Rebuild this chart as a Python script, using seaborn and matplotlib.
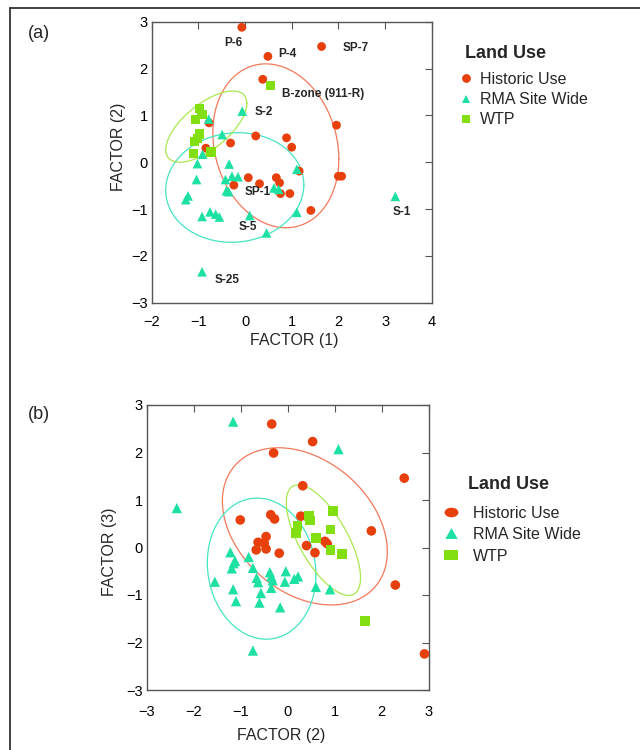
import numpy as np
import pandas as pd
import matplotlib
matplotlib.use("Agg")
import matplotlib.pyplot as plt
import seaborn as sns
from matplotlib.lines import Line2D
from matplotlib.path import Path
from matplotlib.transforms import Affine2D

# ---------------- data ----------------
groups = ["Historic Use", "RMA Site Wide", "WTP"]

# Panel (a): FACTOR (1) vs FACTOR (2)
a_hist_x = [-0.07, 0.49, 1.64, 0.38, 1.96, 0.23, 0.89, 1.00, -0.31, -0.77, -0.84, 2.00, 2.07, 1.16,
            0.07, -0.24, 0.31, 0.67, 0.74, 0.76, 0.96, 1.41]
a_hist_y = [2.88, 2.26, 2.47, 1.77, 0.79, 0.56, 0.52, 0.32, 0.41, 0.84, 0.30, -0.30, -0.30, -0.19,
            -0.33, -0.49, -0.46, -0.33, -0.44, -0.67, -0.67, -1.03]
a_rma_x = [3.22, -0.92, -0.06, -0.78, -0.49, -0.91, -1.02, -0.34, -1.04, -0.42, -0.28, -0.15, -0.40,
           -0.35, -1.22, -1.27, -0.92, -0.75, -0.63, -0.55, 0.10, 0.46, 0.62, 0.72, 1.11, 1.11]
a_rma_y = [-0.73, -2.34, 1.09, 0.92, 0.59, 0.17, -0.03, -0.04, -0.37, -0.37, -0.30, -0.31, -0.61,
           -0.63, -0.72, -0.80, -1.16, -1.06, -1.11, -1.17, -1.14, -1.51, -0.55, -0.58, -0.15, -1.07]
a_wtp_x = [-0.97, -0.92, -1.06, -0.97, -1.02, -1.09, -1.10, -0.73, 0.54]
a_wtp_y = [1.15, 1.02, 0.92, 0.60, 0.50, 0.45, 0.19, 0.22, 1.64]

a_label_text = ["P-6", "P-4", "SP-7", "B-zone (911-R)", "S-2", "SP-1", "S-5", "S-25", "S-1"]
a_label_x = [-0.45, 0.72, 2.09, 0.80, 0.21, -0.01, -0.13, -0.65, 3.16]
a_label_y = [2.55, 2.30, 2.44, 1.45, 1.07, -0.64, -1.39, -2.51, -1.07]

# ellipse parameters: centre x, centre y, sd x, sd y, correlation
a_ell_cx = [0.66, -0.22, -0.83]
a_ell_cy = [0.35, -0.54, 0.76]
a_ell_sx = [1.35, 1.48, 0.87]
a_ell_sy = [1.75, 1.17, 0.76]
a_ell_r = [-0.16, 0.05, 0.65]

# Panel (b): FACTOR (2) vs FACTOR (3)
b_hist_x = [-0.34, 0.53, -0.30, 2.48, 0.32, -1.01, -0.36, -0.28, 0.28, 1.78, 2.29, 2.91, -0.46,
            -0.63, -0.50, -0.67, -0.46, -0.18, 0.40, 0.58, 0.79, 0.84]
b_hist_y = [2.60, 2.23, 1.99, 1.46, 1.30, 0.58, 0.69, 0.60, 0.66, 0.35, -0.79, -2.24, 0.23,
            0.11, 0.09, -0.05, -0.03, -0.12, 0.04, -0.11, 0.13, 0.08]
b_rma_x = [-1.16, -2.36, 1.08, -1.22, -1.12, -1.15, -1.19, -0.83, -0.74, -1.55, -1.16, -1.10, -0.66,
           -0.63, -0.57, -0.60, -0.38, -0.35, -0.32, -0.35, -0.16, -0.04, -0.06, 0.14, 0.22, 0.60,
           0.90, -0.74]
b_rma_y = [2.65, 0.83, 2.07, -0.10, -0.28, -0.33, -0.44, -0.20, -0.43, -0.72, -0.88, -1.13, -0.64,
           -0.73, -0.96, -1.16, -0.52, -0.61, -0.69, -0.85, -1.26, -0.50, -0.72, -0.66, -0.61, -0.83,
           -0.88, -2.17]
b_wtp_x = [0.46, 0.47, 0.21, 0.18, 0.97, 0.60, 0.91, 0.91, 1.16, 1.64]
b_wtp_y = [0.66, 0.57, 0.46, 0.30, 0.76, 0.20, 0.38, -0.05, -0.13, -1.55]

b_ell_cx = [0.365, -0.555, 0.76]
b_ell_cy = [0.445, -0.445, 0.155]
b_ell_sx = [1.755, 1.155, 0.79]
b_ell_sy = [1.655, 1.485, 1.165]
b_ell_r = [-0.32, -0.085, -0.68]

ticks_a_x = [-2, -1, 0, 1, 2, 3, 4]
ticks_a_y = [-3, -2, -1, 0, 1, 2, 3]
ticks_b = [-3, -2, -1, 0, 1, 2, 3]

# ---------------- style ----------------
sns.set_style("white")
plt.rcParams["font.family"] = ["Liberation Sans", "DejaVu Sans"]

colors = {"Historic Use": "#E8400C", "RMA Site Wide": "#1DE0A3", "WTP": "#82E012"}
ell_colors = {"Historic Use": "#F2785A", "RMA Site Wide": "#46E4C4", "WTP": "#A9E84E"}
markers = {"Historic Use": "o", "RMA Site Wide": "^", "WTP": "s"}
sizes_a = {"Historic Use": 40, "RMA Site Wide": 48, "WTP": 44}
sizes_b = {"Historic Use": 48, "RMA Site Wide": 55, "WTP": 50}

W, H = 640, 750
fig = plt.figure(figsize=(6.4, 7.5), dpi=100)
ax_a = fig.add_axes([151.7 / W, 1 - 302.7 / H, 280 / W, 281 / H])
ax_b = fig.add_axes([146.7 / W, 1 - 690 / H, 282 / W, 285 / H])


def make_df(hx, hy, rx, ry, wx, wy):
    return pd.DataFrame({
        "x": list(hx) + list(rx) + list(wx),
        "y": list(hy) + list(ry) + list(wy),
        "group": ["Historic Use"] * len(hx) + ["RMA Site Wide"] * len(rx) + ["WTP"] * len(wx),
    })


def draw_ellipses(ax, cx, cy, sx, sy, r):
    t = np.linspace(0, 2 * np.pi, 300)
    for g, x0, y0, a, b, rho in zip(groups, cx, cy, sx, sy, r):
        ex = x0 + a * np.cos(t)
        ey = y0 + rho * b * np.cos(t) + b * np.sqrt(1 - rho ** 2) * np.sin(t)
        ax.plot(ex, ey, color=ell_colors[g], lw=0.9, zorder=1)


def style_axes(ax, xlim, ylim, xt, yt, xpad):
    ax.set_xlim(*xlim)
    ax.set_ylim(*ylim)
    ax.set_xticks(xt)
    ax.set_yticks(yt)
    ax.tick_params(direction="in", length=5, width=0.8, color="#555555", top=True, right=True,
                   labelsize=10.5, labelcolor="black")
    ax.tick_params(axis="x", pad=xpad)
    ax.tick_params(axis="y", pad=3)
    for s in ax.spines.values():
        s.set_color("#555555")
        s.set_linewidth(1.0)
        s.set_visible(True)


df_a = make_df(a_hist_x, a_hist_y, a_rma_x, a_rma_y, a_wtp_x, a_wtp_y)
df_b = make_df(b_hist_x, b_hist_y, b_rma_x, b_rma_y, b_wtp_x, b_wtp_y)

for ax, df, sizes, ell in [
    (ax_a, df_a, sizes_a, (a_ell_cx, a_ell_cy, a_ell_sx, a_ell_sy, a_ell_r)),
    (ax_b, df_b, sizes_b, (b_ell_cx, b_ell_cy, b_ell_sx, b_ell_sy, b_ell_r)),
]:
    draw_ellipses(ax, *ell)
    for g in groups:
        sub = df[df["group"] == g]
        sns.scatterplot(data=sub, x="x", y="y", ax=ax, color=colors[g], marker=markers[g],
                        s=sizes[g], edgecolor="none", linewidth=0, legend=False, zorder=3)

style_axes(ax_a, (-2, 4), (-3, 3), ticks_a_x, ticks_a_y, 8.5)
style_axes(ax_b, (-3, 3), (-3, 3), ticks_b, ticks_b, 10.5)

ax_a.set_xlabel("FACTOR (1)", fontsize=11.5)
ax_a.set_ylabel("FACTOR (2)", fontsize=11.5)
ax_a.xaxis.set_label_coords(0.51, -0.133)
ax_a.yaxis.set_label_coords(-0.12, 0.554)
ax_b.set_xlabel("FACTOR (2)", fontsize=11.5)
ax_b.set_ylabel("FACTOR (3)", fontsize=11.5)
ax_b.xaxis.set_label_coords(0.476, -0.158)
ax_b.yaxis.set_label_coords(-0.133, 0.484)
for lab in [ax_a.xaxis.label, ax_a.yaxis.label, ax_b.xaxis.label, ax_b.yaxis.label]:
    lab.set_verticalalignment("center")

for txt, x, y in zip(a_label_text, a_label_x, a_label_y):
    ax_a.text(x, y, txt, fontsize=8.5, fontweight="bold", ha="left", va="center", zorder=4)

# panel tags
fig.text(28 / W, 1 - 34 / H, "(a)", fontsize=13, ha="left", va="center")
fig.text(28 / W, 1 - 414 / H, "(b)", fontsize=13, ha="left", va="center")

# legends
fig.text(465 / W, 1 - 53.5 / H, "Land Use", fontsize=13, fontweight="bold", ha="left", va="center")
fig.text(468.5 / W, 1 - 485 / H, "Land Use", fontsize=13, fontweight="bold", ha="left", va="center")

h_a = [Line2D([], [], ls="none", marker=markers[g], color=colors[g], markeredgewidth=0,
              markersize={"Historic Use": 6.3, "RMA Site Wide": 5.8, "WTP": 5.6}[g]) for g in groups]
fig.legend(handles=h_a, labels=groups, loc="upper left", frameon=False, fontsize=11.5,
           bbox_to_anchor=(459.3 / W, 1 - 72.0 / H), borderpad=0, borderaxespad=0,
           handlelength=0.8, handletextpad=0.49, labelspacing=0.32)

wide_circle = Path.unit_circle().transformed(Affine2D().scale(1.45, 1.0))
wide_tri = Path([(0, 1), (-1.15, -1), (1.15, -1), (0, 1)], closed=True)
wide_sq = Path([(-1.45, -1), (1.45, -1), (1.45, 1), (-1.45, 1), (-1.45, -1)], closed=True)
b_leg_marker = {"Historic Use": (wide_circle, 10.0), "RMA Site Wide": (wide_tri, 9.0),
                "WTP": (wide_sq, 10.0)}
h_b = [Line2D([], [], ls="none", marker=b_leg_marker[g][0], color=colors[g], markeredgewidth=0,
              markersize=b_leg_marker[g][1]) for g in groups]
fig.legend(handles=h_b, labels=groups, loc="upper left", frameon=False, fontsize=11.5,
           bbox_to_anchor=(441.4 / W, 1 - 505.5 / H), borderpad=0, borderaxespad=0,
           handlelength=1.2, handletextpad=0.8, labelspacing=0.41)

# outer frame (left and top edges visible)
fig.add_artist(Line2D([9.5 / W, 9.5 / W], [1 - 7.5 / H, 0], transform=fig.transFigure,
                      color="#333333", lw=1.3))
fig.add_artist(Line2D([9.5 / W, 1], [1 - 7.5 / H, 1 - 7.5 / H], transform=fig.transFigure,
                      color="#333333", lw=1.3))

fig.savefig("out.png", dpi=100)
